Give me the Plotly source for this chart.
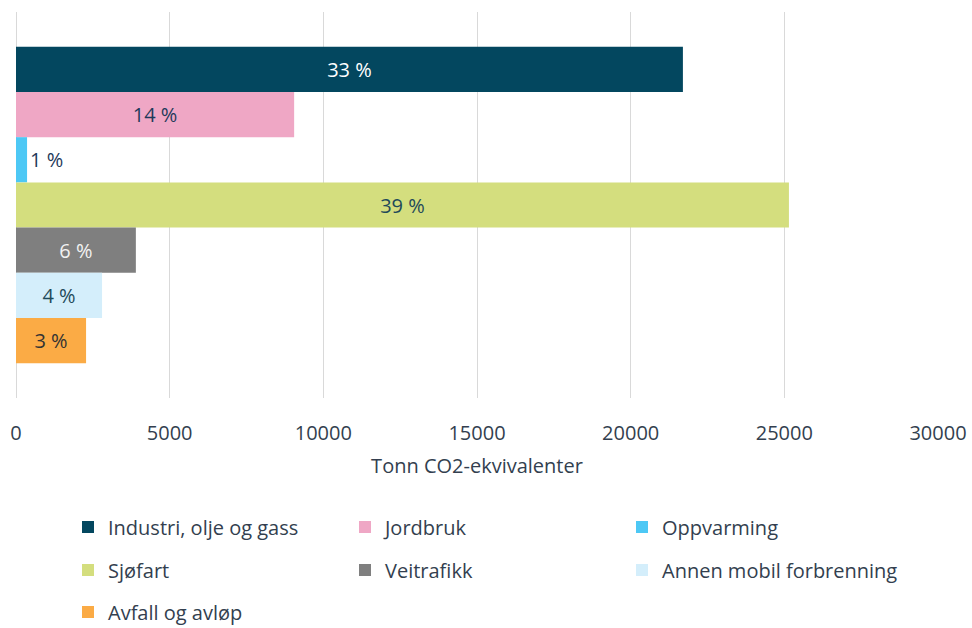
import plotly.graph_objects as go

categories = ["Industri, olje og gass", "Jordbruk", "Oppvarming", "Sjøfart",
              "Veitrafikk", "Annen mobil forbrenning", "Avfall og avløp"]
values = [21700, 9050, 360, 25150, 3900, 2800, 2280]
labels = ["33 %", "14 %", "1 %", "39 %", "6 %", "4 %", "3 %"]
colors = ["#03475F", "#EFA7C5", "#4DC8F5", "#D4DE7E", "#7F7F7F", "#D4EEFB", "#FBAB45"]
text_colors = ["#FFFFFF", "#1F3A5A", "#1F3A5A", "#1F4A5A", "#F2F2F2", "#1F4A5A", "#333333"]
legend_ids = ["legend", "legend", "legend", "legend2", "legend2", "legend2", "legend3"]
x_ticks = [0, 5000, 10000, 15000, 20000, 25000, 30000]

FONT = "Open Sans"
FS = 20
TXT = "#333F4F"

fig = go.Figure()
for name, v, lab, c, tc, lg in zip(categories, values, labels, colors, text_colors, legend_ids):
    tf = dict(color=tc, size=FS, family=FONT)
    fig.add_trace(go.Bar(
        y=["all"], x=[v], name=name, orientation="h",
        marker=dict(color=c, line=dict(width=0)),
        text=[lab], textposition="auto", insidetextanchor="middle",
        textfont=tf, outsidetextfont=tf, insidetextfont=tf,
        constraintext="none",
        cliponaxis=False, legend=lg, hoverinfo="x+name",
    ))

W, H = 972, 628
L, R, T, B = 16, 34, 12, 230
ph = H - T - B
pw = W - L - R

def ly(py):
    return (H - B - py) / ph

legend_common = dict(orientation="h", entrywidth=232, entrywidthmode="pixels",
                     font=dict(family=FONT, size=FS, color=TXT),
                     itemwidth=30, bgcolor="rgba(0,0,0,0)", xanchor="left", yanchor="middle",
                     traceorder="normal", itemclick=False)
lx = (68 - L) / pw

fig.update_layout(
    width=W, height=H,
    margin=dict(l=L, r=R, t=T, b=B, autoexpand=False),
    paper_bgcolor="white", plot_bgcolor="white",
    barmode="group", bargap=0.18, bargroupgap=0,
    showlegend=True,
    font=dict(family=FONT, size=FS, color=TXT),
    xaxis=dict(range=[0, 30000], tickvals=x_ticks, ticktext=[str(t) for t in x_ticks],
               showgrid=True, gridcolor="#D9D9D9", gridwidth=1,
               zeroline=True, zerolinecolor="#D9D9D9", zerolinewidth=1,
               showline=False, ticks="outside", ticklen=17, tickcolor="rgba(0,0,0,0)",
               automargin=False,
               tickfont=dict(family=FONT, size=FS, color=TXT),
               title=dict(text="Tonn CO2-ekvivalenter", standoff=13,
                          font=dict(family=FONT, size=FS, color=TXT))),
    yaxis=dict(visible=False, autorange="reversed"),
    legend=dict(**legend_common, x=lx, y=ly(527)),
    legend2=dict(**legend_common, x=lx, y=ly(570)),
    legend3=dict(**legend_common, x=lx, y=ly(612)),
)

fig.write_html("out.html", config={"displayModeBar": False},
               post_script="document.body.style.margin='0';document.body.style.overflow='hidden';")
